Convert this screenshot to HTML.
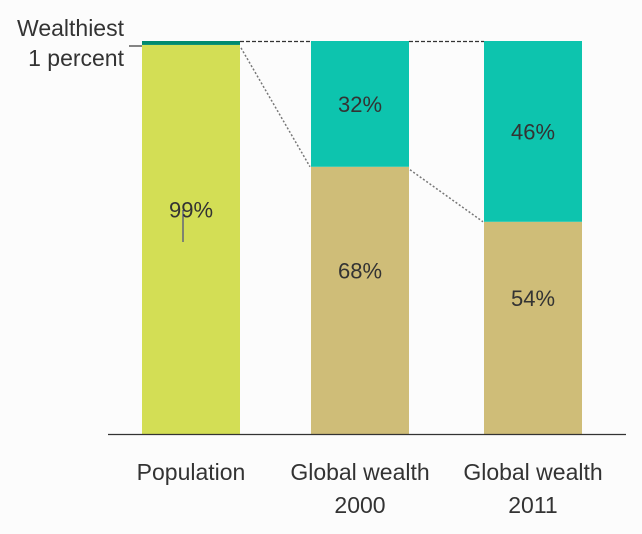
<!DOCTYPE html>
<html><head><meta charset="utf-8"><style>
html,body{margin:0;padding:0;background:#fcfcfc;}
svg{display:block;font-family:"Liberation Sans Narrow","Liberation Sans",sans-serif;}
</style></head><body>
<svg id="chart" width="642" height="534" viewBox="0 0 642 534">
<text x="124" y="36" font-size="23" fill="#333" text-anchor="end">Wealthiest</text>
<text x="124" y="66" font-size="23" fill="#333" text-anchor="end">1  percent</text>
<line x1="129" y1="46" x2="142" y2="46" stroke="#333" stroke-width="1.2"/>
</svg>
<script>
const categories = ["Population", "Global wealth|2000", "Global wealth|2011"];
const bottomValues = [99, 68, 54];
const topValues = [1, 32, 46];
const bottomColors = ["#d3de55", "#cfbd78", "#cfbd78"];
const topColors = ["#008a6e", "#0dc4ae", "#0dc4ae"];

const svg = document.getElementById('chart');
const NS = 'http://www.w3.org/2000/svg';
const top0 = 41, base = 434, barW = 98;
const xs = [142, 311, 484];
function y(v){ return base - v/100*(base-top0); }
function mk(tag, attrs){ const e=document.createElementNS(NS,tag); for(const k in attrs) e.setAttribute(k,attrs[k]); svg.appendChild(e); return e; }

categories.forEach((c,i)=>{
  const x = xs[i];
  const yb = y(bottomValues[i]);
  const r1 = mk('rect',{x:x,y:yb,width:barW,height:base-yb,fill:bottomColors[i]});
  
  
  const yt = y(bottomValues[i]+topValues[i]);
  const r2 = mk('rect',{x:x,y:yt,width:barW,height:yb-yt,fill:topColors[i]});
  
  
  const cx = x+barW/2;
  const t1 = mk('text',{x:cx,y:(yb+base)/2-22,'font-size':22,fill:'#333','text-anchor':'middle'});
  t1.textContent = bottomValues[i]+'%';
  
  
  if(topValues[i] > 5){
    const t2 = mk('text',{x:cx,y:(yt+yb)/2+8,'font-size':22,fill:'#333','text-anchor':'middle'});
    t2.textContent = topValues[i]+'%';
    
    
  }
  const lines = c.split('|');
  lines.forEach((ln,j)=>{
    const t = mk('text',{x:cx,y:480+j*33,'font-size':23,fill:'#333','text-anchor':'middle'});
    t.textContent = ln;
    
    
  });
  if(i>0){
    const px = xs[i-1]+barW;
    const d = mk('line',{x1:px,y1:top0+0.5,x2:x,y2:top0+0.5,stroke:'#333','stroke-width':1.3,'stroke-dasharray':'4,2'});
    
    
    const pyb = y(bottomValues[i-1]);
    const dl = mk('line',{x1:px+1,y1:pyb+3,x2:x-1,y2:yb,stroke:'#777','stroke-width':1.5,'stroke-dasharray':'2,2'});
    
    
  }
});
const cur = mk('line',{x1:183,y1:210,x2:183,y2:242,stroke:'#2a2a8a','stroke-width':1});


const ax = mk('line',{x1:108,y1:base+0.5,x2:626,y2:base+0.5,stroke:'#333','stroke-width':1.3});


</script>
</body></html>
